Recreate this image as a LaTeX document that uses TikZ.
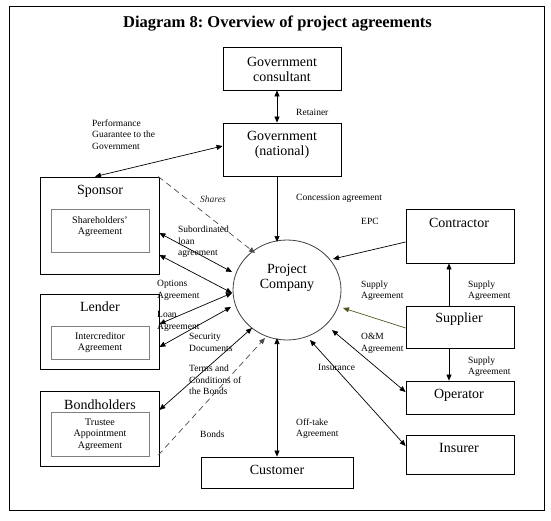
\documentclass[tikz,border=0pt]{standalone}
\usepackage{fontspec}
\setmainfont{Liberation Serif}
\usetikzlibrary{arrows.meta,shapes.geometric}
\definecolor{olivearrow}{RGB}{85,85,34}
\definecolor{innergray}{RGB}{128,128,128}
\tikzset{
  box/.style={draw=black,line width=0.8pt,inner sep=0pt},
  innerbox/.style={draw=innergray,line width=0.8pt,inner sep=0pt},
  boxtext/.style={inner sep=0pt,align=center,font=\fontsize{14}{15.5}\selectfont},
  innertext/.style={inner sep=0pt,align=center,font=\fontsize{10}{11.5}\selectfont},
  lbl/.style={inner sep=0pt,anchor=west,align=left,font=\fontsize{9.5}{11.5}\selectfont},
  conn/.style={line width=0.7pt,draw=black},
  dbl/.style={conn,{Triangle[length=6pt,width=5pt]}-{Triangle[length=6pt,width=5pt]}},
  sgl/.style={conn,-{Triangle[length=6pt,width=5pt]}},
  dsh/.style={line width=0.7pt,draw=black!70,dash pattern=on 6pt off 4pt,-{Triangle[length=6pt,width=5pt]}}
}
\begin{document}
\frenchspacing
\begin{tikzpicture}[x=1pt,y=-1pt]
\useasboundingbox (0,0) rectangle (551,520);
\draw[line width=1pt] (9,6) rectangle (544,510);
\node[inner sep=0pt,font=\fontsize{16.5}{18}\selectfont\bfseries] (title) at (277.5,24) {Diagram 8: Overview of project agreements};

% boxes
\node[box,minimum width=118pt,minimum height=43pt] (gc) at (282,68.5) {};
\node[box,minimum width=118pt,minimum height=53pt] (gov) at (282,149.5) {};
\node[box,minimum width=119pt,minimum height=97pt] (sponsor) at (99.5,225.5) {};
\node[innerbox,minimum width=98pt,minimum height=43pt] (sponsorIn) at (100,230.5) {};
\node[box,minimum width=119pt,minimum height=75pt] (lender) at (99.5,331.5) {};
\node[innerbox,minimum width=98pt,minimum height=33pt] (lenderIn) at (100,342.5) {};
\node[box,minimum width=119pt,minimum height=75pt] (bond) at (99.5,428.5) {};
\node[innerbox,minimum width=98pt,minimum height=44pt] (bondIn) at (100,434) {};
\node[box,minimum width=152pt,minimum height=31pt] (cust) at (277,472.5) {};
\node[box,minimum width=108pt,minimum height=54pt] (contr) at (460,236) {};
\node[box,minimum width=108pt,minimum height=42pt] (supp) at (460,327) {};
\node[box,minimum width=108pt,minimum height=33pt] (oper) at (460,397.5) {};
\node[box,minimum width=108pt,minimum height=39pt] (ins) at (460,454.5) {};
\node[ellipse,draw=black!75,line width=0.8pt,minimum width=108pt,minimum height=100pt,inner sep=0pt] (pc) at (287,290) {};

% box texts
\node[boxtext] (gcT) at (282,69.5) {Government\\consultant};
\node[boxtext] (govT) at (282,145) {Government\\(national)};
\node[boxtext] (sponsorT) at (100,191) {Sponsor};
\node[innertext] (sponsorInT) at (100,226.5) {Shareholders'\\Agreement};
\node[boxtext] (lenderT) at (100,307) {Lender};
\node[innertext] (lenderInT) at (100,342.5) {Intercreditor\\Agreement};
\node[boxtext] (bondT) at (100,405) {Bondholders};
\node[innertext] (bondInT) at (100,434.5) {Trustee\\Appointment\\Agreement};
\node[boxtext] (custT) at (277,470) {Customer};
\node[boxtext] (contrT) at (459,223) {Contractor};
\node[boxtext] (suppT) at (459,319) {Supplier};
\node[boxtext] (operT) at (459,395) {Operator};
\node[boxtext] (insT) at (459,448) {Insurer};
\node[boxtext] (pcT) at (287,278) {Project\\Company};

% connector labels
\node[lbl] (lRet) at (296,112) {Retainer};
\node[lbl] (lPerf) at (92,134.5) {Performance\\Guarantee to the\\Government};
\node[lbl] (lConc) at (296,198) {Concession agreement};
\node[lbl] (lEPC) at (361,221) {EPC};
\node[lbl] (lSupMid) at (361,290.5) {Supply\\Agreement};
\node[lbl] (lSupTop) at (468,290.5) {Supply\\Agreement};
\node[lbl] (lSupBot) at (468,366.5) {Supply\\Agreement};
\node[lbl] (lOM) at (361,343.5) {O\&M\\Agreement};
\node[lbl] (lIns) at (318,367) {Insurance};
\node[lbl] (lOff) at (296,428.5) {Off-take\\Agreement};
\node[lbl] (lBonds) at (200,434) {Bonds};
\node[lbl] (lTerms) at (189,380) {Terms and\\Conditions of\\the Bonds};
\node[lbl] (lSec) at (189,342.5) {Security\\Documents};
\node[lbl] (lLoan) at (157,321.5) {Loan\\Agreement};
\node[lbl] (lOpt) at (157,290.5) {Options\\Agreement};
\node[lbl] (lSub) at (178,242) {Subordinated\\loan\\agreement};
\node[lbl,text=black!85,font=\fontsize{9.5}{11.5}\selectfont\itshape] (lShares) at (200,199) {Shares};

% connectors
\draw[dbl] ([shift={(-5,0)}]gc.south) -- ([shift={(-5,0)}]gov.north);
\draw[dbl] ([shift={(-4.5,0)}]sponsor.north) -- ([shift={(0,-3.5)}]gov.west);
\draw[sgl] ([shift={(-5,0)}]gov.south) -- ([shift={(-10,-48)}]pc.center);
\draw[dsh] ([shift={(-1,0)}]sponsor.north east) -- ([shift={(-32,-37)}]pc.center);
\draw[dbl] ([shift={(0,7.5)}]sponsor.east) -- ([shift={(-55,-18)}]pc.center);
\draw[dbl] ([shift={(0,29.5)}]sponsor.east) -- ([shift={(-55,3)}]pc.center);
\draw[dbl] ([shift={(0,-7.5)}]lender.east) -- ([shift={(-55,3)}]pc.center);
\draw[dbl] ([shift={(0,15.5)}]lender.east) -- ([shift={(-56,17)}]pc.center);
\draw[dbl] ([shift={(0,-18.5)}]bond.east) -- ([shift={(-35,38)}]pc.center);
\draw[dsh] ([shift={(-1,26.5)}]bond.east) -- ([shift={(-22,48)}]pc.center);
\draw[dbl] ([shift={(-10,48)}]pc.center) -- (cust.north);
\draw[dbl] ([shift={(23,50)}]pc.center) -- ([shift={(0,-8.5)}]ins.west);
\draw[dbl] ([shift={(45,40)}]pc.center) -- ([shift={(0,-5.5)}]oper.west);
\draw[sgl,draw=olivearrow] ([shift={(0,1)}]supp.west) -- ([shift={(56,18)}]pc.center);
\draw[sgl] ([shift={(0,6)}]contr.west) -- ([shift={(46,-31)}]pc.center);
\draw[sgl] ([shift={(-11,0)}]supp.north) -- ([shift={(-11,0)}]contr.south);
\draw[sgl] ([shift={(-11,0)}]supp.south) -- ([shift={(-11,0)}]oper.north);
\end{tikzpicture}
\end{document}
